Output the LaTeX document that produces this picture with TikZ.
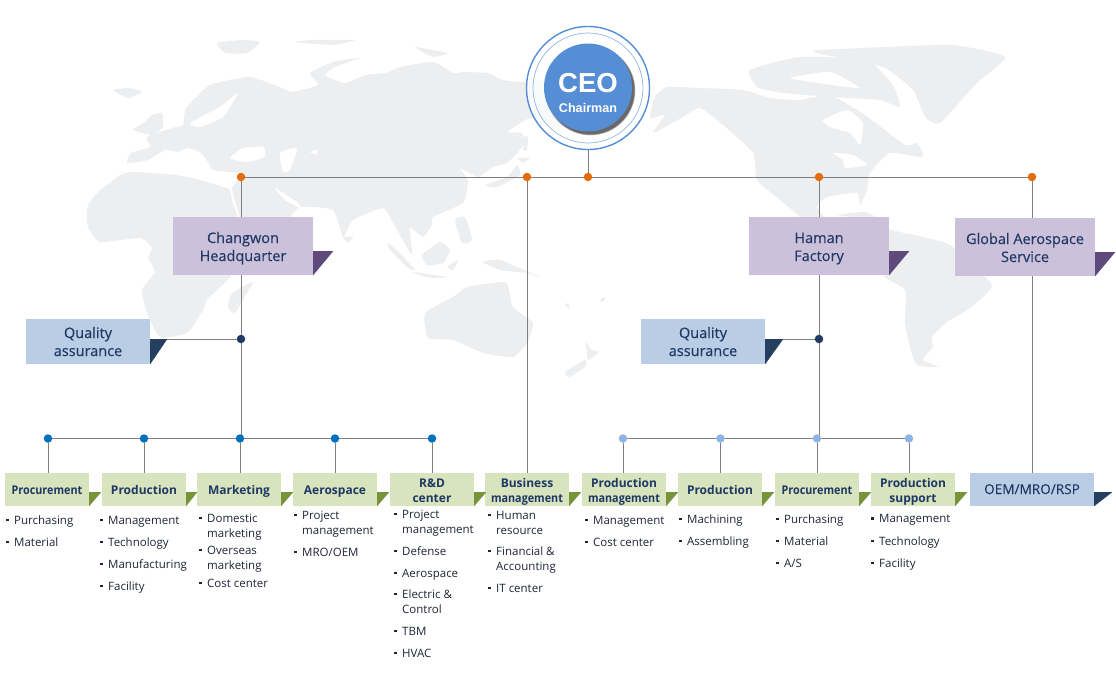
\documentclass[tikz,border=0pt]{standalone}
\usepackage{fontspec}
\usepackage{graphicx}
\setmainfont{Open Sans}
\newfontfamily\medfont{Open Sans}[FakeBold=.25]
\newfontfamily\ceofont{Liberation Sans}
\usetikzlibrary{backgrounds}

\definecolor{landgray}{HTML}{EDEEF0}
\definecolor{linegray}{HTML}{7F7F7F}
\definecolor{ceoblue}{HTML}{558ED5}
\definecolor{ringblue}{HTML}{8EB4E3}
\definecolor{navytext}{HTML}{1F3864}
\definecolor{itemtext}{HTML}{1E2433}
\definecolor{purplebox}{HTML}{CCC1DA}
\definecolor{purpleflag}{HTML}{604A7B}
\definecolor{bluebox}{HTML}{B9CDE5}
\definecolor{blueflag}{HTML}{243F60}
\definecolor{greenbox}{HTML}{D7E4BD}
\definecolor{greenflag}{HTML}{77933C}
\definecolor{dotorange}{HTML}{E46C0A}
\definecolor{dotblue}{HTML}{0070C0}
\definecolor{dotlight}{HTML}{8EB4E3}

\newcommand{\bul}{\llap{\rule[3pt]{2.5pt}{2.5pt}\hspace{5.5pt}}}
\newcommand{\tight}[1]{\scalebox{.9}[1]{#1}}

\tikzset{
  land/.style={fill=landgray},
  sea/.style={fill=white},
  conn/.style={draw=linegray, line width=1pt},
  dot/.style={circle, inner sep=0pt, minimum size=8.5pt},
  box/.style={inner sep=0pt, align=center, text=navytext, text depth=3pt, font=\medfont\fontsize{14.5}{18}\selectfont},
  headbox/.style={box, fill=purplebox, minimum width=140pt, minimum height=58pt, text height=33pt},
  qualbox/.style={box, fill=bluebox, minimum width=124pt, minimum height=45pt, text height=32pt},
  deptbox/.style={box, fill=greenbox, minimum width=84pt, minimum height=33pt, text height=12pt, font=\fontsize{12}{15}\selectfont\bfseries},
  depttwo/.style={deptbox, text height=28pt},
  listitem/.style={anchor=base west, inner sep=0pt, align=left, text=itemtext, font=\fontsize{11.5}{15}\selectfont}
}

\begin{document}
\begin{tikzpicture}[x=1pt, y=-1pt]
    \useasboundingbox (0,0) rectangle (1116,675);

    % World map
    \begin{scope}[on background layer]
        \fill[land] plot[smooth cycle, tension=.3] coordinates {(127,163) (131,153) (150,147) (147,137) (172,128) (183,125) (186,108) (210,85) (250,77) (282,88) (292,92) (318,85) (310,73) (333,62) (360,58) (335,67) (325,75) (345,83) (365,75) (385,73) (400,67) (433,62) (453,73) (463,72) (487,73) (503,80) (523,82) (560,80) (572,118) (555,128) (530,118) (508,132) (522,133) (522,147) (507,163) (493,167) (478,177) (460,168) (465,175) (468,183) (463,203) (433,217) (432,225) (423,237) (410,228) (412,255) (393,223) (383,208) (353,220) (343,237) (333,210) (300,207) (285,222) (250,233) (240,217) (232,188) (243,174) (213,170) (208,162) (200,152) (187,148) (178,152) (165,150) (148,160)};
        \fill[land] plot[smooth cycle, tension=.3] coordinates {(87,217) (88,205) (100,190) (110,183) (120,175) (133,172) (177,175) (200,180) (229,189) (232,200) (240,222) (255,240) (230,277) (207,300) (203,310) (187,333) (160,337) (147,313) (142,290) (155,272) (148,258) (152,248) (140,238) (100,242) (88,227)};
        \fill[land] plot[smooth cycle, tension=.3] coordinates {(253,282) (247,293) (235,313) (228,307) (232,293)};
        \fill[land] plot[smooth cycle, tension=.3] coordinates {(133,130) (145,122) (152,115) (162,113) (163,127) (153,135)};
        \fill[land] plot[smooth cycle, tension=.3] coordinates {(113,90) (130,88) (142,92) (128,98)};
        \fill[land] plot[smooth cycle, tension=.3] coordinates {(217,43) (243,40) (260,42) (247,53) (225,53)};
        \fill[land] plot[smooth cycle, tension=.3] coordinates {(295,42) (313,40) (355,40) (333,45)};
        \fill[land] plot[smooth cycle, tension=.3] coordinates {(415,47) (447,53) (433,57)};
        \fill[land] plot[smooth cycle, tension=.3] coordinates {(343,237) (353,237) (348,243)};
        \fill[land] plot[smooth cycle, tension=.3] coordinates {(388,243) (400,253) (415,270) (408,268) (390,250)};
        \fill[land] plot[smooth cycle, tension=.3] coordinates {(412,272) (447,277) (430,278)};
        \fill[land] plot[smooth cycle, tension=.3] coordinates {(422,255) (440,242) (450,250) (443,263) (427,265)};
        \fill[land] plot[smooth cycle, tension=.3] coordinates {(455,220) (465,217) (472,240) (462,243)};
        \fill[land] plot[smooth cycle, tension=.3] coordinates {(447,267) (458,260) (453,270)};
        \fill[land] plot[smooth cycle, tension=.3] coordinates {(483,262) (500,260) (540,277) (527,273) (500,270)};
        \fill[land] plot[smooth cycle, tension=.3] coordinates {(425,313) (453,297) (467,287) (493,283) (507,283) (513,307) (533,323) (527,343) (513,357) (483,353) (453,340) (428,338)};
        \fill[land] plot[smooth cycle, tension=.3] coordinates {(485,185) (507,177) (517,165) (520,175) (497,187)};
        \fill[land] plot[smooth cycle, tension=.3] coordinates {(518,158) (530,158) (523,163)};
        \fill[land] plot[smooth cycle, tension=.3] coordinates {(523,137) (528,137) (527,150) (523,150)};
        \fill[land] plot[smooth cycle, tension=.3] coordinates {(586,342) (592,350) (599,352) (588,360)};
        \fill[land] plot[smooth cycle, tension=.3] coordinates {(585,360) (565,372) (570,377) (585,367)};
        \fill[land] plot[smooth cycle, tension=.3] coordinates {(565,305) (570,309) (568,303)};
        \fill[land] plot[smooth cycle, tension=.3] coordinates {(600,300) (606,297) (603,302)};
        % Americas
        \fill[land] plot[smooth cycle, tension=.3] coordinates {(650,118) (655,97) (667,87) (700,88) (743,90) (770,98) (800,100) (830,95) (865,115) (905,145) (917,143) (923,157) (890,153) (870,173) (867,190) (860,205) (857,193) (827,197) (817,207) (830,225) (860,270) (820,240) (800,217) (780,200) (757,180) (753,153) (723,125) (700,108) (683,117) (653,133) (665,115)};
        \fill[land] plot[smooth cycle, tension=.3] coordinates {(750,70) (800,57) (867,60) (893,85) (900,107) (880,100) (833,97) (783,93) (757,87)};
        \fill[land] plot[smooth cycle, tension=.3] coordinates {(817,53) (820,50) (950,45) (1005,57) (977,83) (940,123) (925,117) (913,90) (883,67)};
        \fill[land] plot[smooth cycle, tension=.3] coordinates {(860,225) (900,232) (950,245) (992,285) (967,310) (947,322) (932,337) (933,347) (923,360) (940,367) (917,365) (910,347) (905,323) (905,290) (883,275)};
        \fill[land] plot[smooth cycle, tension=.3] coordinates {(837,215) (865,212) (875,217) (855,217)};
        % Inland seas
        \fill[sea] plot[smooth cycle, tension=.3] coordinates {(190,123) (220,107) (238,93) (223,117) (200,127)};
        \fill[sea] plot[smooth cycle, tension=.3] coordinates {(230,158) (243,148) (263,147) (265,157) (247,162)};
        \fill[sea] plot[smooth cycle, tension=.3] coordinates {(280,153) (297,148) (290,170) (283,172)};
        \fill[sea] plot[smooth cycle, tension=.3] coordinates {(310,152) (317,150) (317,155)};
        \fill[sea] plot[smooth cycle, tension=.3] coordinates {(275,188) (297,202) (300,208) (285,200)};
        \fill[sea] plot[smooth cycle, tension=.3] coordinates {(823,120) (847,110) (863,123) (860,145) (850,133) (830,127)};
        \fill[sea] plot[smooth cycle, tension=.3] coordinates {(833,153) (853,155) (867,165) (845,168) (843,160)};
        \fill[sea] plot[smooth cycle, tension=.3] coordinates {(790,78) (830,72) (860,88) (825,84)};
    \end{scope}

    % CEO
    \node[circle, draw=ceoblue, line width=1.4pt, fill=white, fill opacity=.65, minimum size=123pt] (ring) at (588,88) {};
    \node[circle, draw=ringblue, line width=.7pt, minimum size=110pt] (ringin) at (588,88) {};
    \foreach \r/\o in {45/.15, 44.5/.25, 44/.35} {
        \fill[black, opacity=\o] (590.5,90.5) circle (\r pt);
    }
    \node[circle, fill=ceoblue, minimum size=88pt] (ceo) at (588,87.5) {};
    \node[text=white, font=\ceofont\bfseries\fontsize{27.5}{30}\selectfont] (ceotitle) at (588,83) {CEO};
    \node[text=white, font=\ceofont\bfseries\fontsize{12.6}{15}\selectfont] (chair) at (588,108) {Chairman};

    % Junctions
    \foreach \n/\x in {tHQ/241, tBiz/527, tCeo/588, tHam/819, tGas/1032} {
        \node[dot, fill=dotorange] (\n) at (\x,177) {};
    }
    \node[dot, fill=navytext] (jHQ) at (241,339) {};
    \node[dot, fill=navytext] (jHam) at (819,339) {};
    \foreach \n/\x in {dProc/48, dProd/144, dMkt/240, dAero/335, dRnd/432} {
        \node[dot, fill=dotblue] (\n) at (\x,438.5) {};
    }
    \foreach \n/\x in {dPm/623, dMach/720.5, dBuy/817, dSup/909} {
        \node[dot, fill=dotlight] (\n) at (\x,438.5) {};
    }

    % Head boxes
    \node[headbox] (hq) at (243,246) {Changwon\\Headquarter};
    \node[headbox] (haman) at (819,246) {Haman\\Factory};
    \node[headbox] (gas) at (1025,247) {Global Aerospace\\Service};
    \node[qualbox] (qaHQ) at (88,341.5) {Quality\\assurance};
    \node[qualbox] (qaHam) at (703,341.5) {Quality\\assurance};

    % Department boxes
    \node[deptbox] (proc) at (47,489.5) {\tight{Procurement}};
    \node[deptbox] (prod) at (144,489.5) {Production};
    \node[deptbox] (mkt) at (239,489.5) {Marketing};
    \node[deptbox] (aero) at (335,489.5) {Aerospace};
    \node[depttwo] (rnd) at (432,489.5) {R\&D\\center};
    \node[depttwo] (biz) at (527,489.5) {Business\\\tight{management}};
    \node[depttwo] (pm) at (624,489.5) {Production\\\tight{management}};
    \node[deptbox] (mach) at (720,489.5) {Production};
    \node[deptbox] (buy) at (817,489.5) {\tight{Procurement}};
    \node[depttwo] (sup) at (913,489.5) {Production\\support};
    \node[box, fill=bluebox, minimum width=124pt, minimum height=33pt, text height=12pt, font=\medfont\fontsize{13.6}{15}\selectfont] (oem) at (1032,489.5) {OEM/MRO/RSP};

    % Flags
    \foreach \b/\w/\h/\c in {hq/20/24/purpleflag, haman/20/24/purpleflag, gas/20/24/purpleflag, qaHQ/17/25/blueflag, qaHam/18/25/blueflag, oem/18/14/blueflag, proc/12/14/greenflag, prod/11/14/greenflag, mkt/12/14/greenflag, aero/12/14/greenflag, rnd/12/14/greenflag, biz/12/14/greenflag, pm/12/14/greenflag, mach/12/14/greenflag, buy/12/14/greenflag, sup/12/14/greenflag} {
        \fill[\c] (\b.south east) -- ++(0,-\h) -- ++(\w,0) -- cycle;
    }

    % Connectors
    \begin{scope}[on background layer]
        \draw[conn] (tHQ) -- (tGas);
        \draw[conn] (tCeo) -- (ring);
        \draw[conn] (tHQ) -- (jHQ) -- (jHQ |- dMkt);
        \draw[conn] (dMkt) -- (dMkt |- mkt.north);
        \draw[conn] (jHQ) -- (jHQ -| qaHQ.east);
        \draw[conn] (tHam) -- (jHam) -- (jHam |- dBuy);
        \draw[conn] (dBuy) -- (dBuy |- buy.north);
        \draw[conn] (jHam) -- (jHam -| qaHam.east);
        \draw[conn] (tBiz) -- (tBiz |- biz.north);
        \draw[conn] (tGas) -- (tGas |- oem.north);
        \draw[conn] (dProc) -- (dRnd);
        \draw[conn] (dPm) -- (dSup);
        \foreach \d/\b in {dProc/proc, dProd/prod, dAero/aero, dRnd/rnd, dPm/pm, dMach/mach, dSup/sup} {
            \draw[conn] (\d) -- (\d |- \b.north);
        }
    \end{scope}

    % Lists
    \foreach[count=\i] \x/\y/\txt in {
        14/524.3/Purchasing, 14/546/Material,
        108/524.3/Management, 108/546/Technology, 108/568/Manufacturing, 108/590.3/Facility,
        207/537/Domestic\\marketing, 207/569.3/Overseas\\marketing, 207/587/Cost center,
        302/534.3/Project\\management, 302/556/{MRO/OEM},
        402/533.3/Project\\management, 402/555/Defense, 402/577/Aerospace, 402/613/Electric \&\\Control, 402/635/TBM, 402/657/HVAC,
        496/534/Human\\resource, 496/570.3/Financial \&\\Accounting, 496/592/IT center,
        593/524/Management, 593/546/Cost center,
        687/523/Machining, 687/545/Assembling,
        784/523/Purchasing, 784/545/Material, 784/567/{A/S},
        879/522.6/Management, 879/545/Technology, 879/567/Facility} {
        \node[listitem] (item\i) at (\x,\y) {\bul\txt};
    }
\end{tikzpicture}
\end{document}
